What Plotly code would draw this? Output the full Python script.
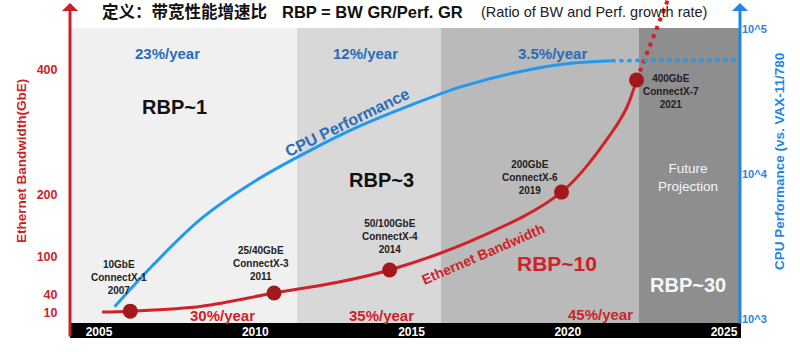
import plotly.graph_objects as go

# ---------------- data ----------------
year_ticks = [2005, 2010, 2015, 2020, 2025]
era_bounds = [2004.07, 2011.34, 2015.94, 2022.28, 2025.55]
era_colors = ["#f0f0f0", "#d8d8d8", "#bababa", "#8e8e8e"]

cpu_year = [2005.5, 2006.7, 2008.3, 2010.0, 2011.7, 2013.3, 2015.0, 2016.6, 2018.3, 2019.9, 2021.4]
cpu_perf = [1220, 2330, 5000, 9000, 14400, 21300, 30100, 40200, 50200, 57700, 60700]
cpu_proj_year = [2021.4, 2025.4]
cpu_proj_perf = [60700, 61400]

bw_year = [2005.1, 2006.0, 2008.3, 2010.6, 2012.5, 2014.3, 2017.2, 2019.8, 2021.4, 2021.9, 2022.2]
bw_gbe = [11.6, 13, 21, 42, 58, 79, 132, 204, 299, 341, 384]
bw_proj_year = [2022.2, 2023.2]
bw_proj_gbe = [384, 512]

nic_year = [2006.0, 2010.6, 2014.3, 2019.8, 2022.2]
nic_gbe = [13, 42, 79, 204, 384]
nic_labels = ["10GbE<br>ConnectX-1<br>2007", "25/40GbE<br>ConnectX-3<br>2011",
              "50/100GbE<br>ConnectX-4<br>2014", "200GbE<br>ConnectX-6<br>2019",
              "400GbE<br>ConnectX-7<br>2021"]

bw_ticks = [10, 40, 100, 200, 400]
cpu_ticks = [1000, 10000, 100000]
cpu_ticktext = ["10^3", "10^4", "10^5"]

# ---------------- styling ----------------
FONT = "Liberation Sans, Arial, Noto Sans CJK SC, sans-serif"
RED = "#cf2229"
DOT_RED = "#a3181b"
BLUE_LINE = "#2199f1"
BLUE_TEXT = "#2a6db6"
BLUE_AXIS = "#1f86e4"

L, R, T, B = 70, 741, 0, 323
W, H = 800, 352


def px(x):
    return (x - L) / (R - L)


def py(y):
    return (B - y) / (B - T)


fig = go.Figure()

fig.add_trace(go.Scatter(x=cpu_year, y=cpu_perf, yaxis="y2", mode="lines",
                         line=dict(color=BLUE_LINE, width=3, shape="spline"),
                         hoverinfo="skip"))
fig.add_trace(go.Scatter(x=cpu_proj_year, y=cpu_proj_perf, yaxis="y2", mode="lines",
                         line=dict(color=BLUE_LINE, width=3.5, dash="4px,4px"),
                         hoverinfo="skip"))
fig.add_trace(go.Scatter(x=bw_year, y=bw_gbe, mode="lines",
                         line=dict(color=RED, width=3, shape="spline"),
                         hoverinfo="skip"))
fig.add_trace(go.Scatter(x=bw_proj_year, y=bw_proj_gbe, mode="lines",
                         line=dict(color=RED, width=4, dash="4px,5px"),
                         hoverinfo="skip"))
fig.add_trace(go.Scatter(x=nic_year, y=nic_gbe, mode="markers",
                         marker=dict(color=DOT_RED, size=15, line=dict(width=0)),
                         cliponaxis=False, hoverinfo="skip"))

shapes = []
for i, c in enumerate(era_colors):
    shapes.append(dict(type="rect", xref="x", yref="paper",
                       x0=era_bounds[i], x1=era_bounds[i + 1],
                       y0=0, y1=py(28), fillcolor=c, line=dict(width=0), layer="below"))
# black band under the x axis
shapes.append(dict(type="rect", xref="paper", yref="paper", x0=0, x1=1,
                   y0=py(338), y1=0, fillcolor="black", line=dict(width=0), layer="below"))

ann = []


def text(x, y, s, size, color, bold=True, angle=0, xanchor="center"):
    ann.append(dict(xref="paper", yref="paper", x=px(x), y=py(y), text=s,
                    showarrow=False, textangle=angle, xanchor=xanchor, yanchor="middle",
                    font=dict(family=FONT, size=size, color=color,
                              weight="bold" if bold else "normal")))


# title
text(100, 12, "定义：带宽性能增速比", 16.5, "#111", xanchor="left")
text(280, 12, "RBP = BW GR/Perf. GR", 16.5, "#111", xanchor="left")
text(479, 12, "(Ratio of BW and Perf. growth rate)", 14.5, "#222", bold=False, xanchor="left")

# growth rates
text(167, 53, "23%/year", 15, BLUE_TEXT)
text(365, 53, "12%/year", 15, BLUE_TEXT)
text(552, 53, "3.5%/year", 15, BLUE_TEXT)
text(222, 315, "30%/year", 15, RED)
text(381, 315, "35%/year", 15, RED)
text(600, 314, "45%/year", 15, RED)

# RBP labels
text(174, 107, "RBP~1", 20, "#111")
text(381, 180, "RBP~3", 20, "#111")
text(557, 263, "RBP~10", 21, RED)
text(688, 285, "RBP~30", 20, "#f7f7f7")
text(688, 177, "Future<br>Projection", 13.5, "#f4f4f4", bold=False)

# curve labels
text(347, 122, "CPU Performance", 16, BLUE_TEXT, angle=-26)
text(483, 254, "Ethernet Bandwidth", 14, RED, angle=-23.5)

# NIC labels
nic_pos = [(119, 277), (261, 263), (390, 236), (530, 177), (671, 91)]
for (x, y), s in zip(nic_pos, nic_labels):
    text(x, y, s, 10, "#222")

# axis titles
text(21, 161, "Ethernet Bandwidth(GbE)", 13.5, "#c8252b", angle=-90)
text(779, 162, "CPU Performance (vs. VAX-11/780", 13.5, BLUE_AXIS, angle=-90)

# axis arrows
ann.append(dict(xref="paper", yref="paper", x=px(70), y=py(3), ax=0, ay=335, text="",
                showarrow=True, arrowhead=1, arrowsize=0.9, arrowwidth=3, arrowcolor="#c8202a"))
ann.append(dict(xref="paper", yref="paper", x=px(740), y=py(3), ax=0, ay=322, text="",
                showarrow=True, arrowhead=1, arrowsize=0.9, arrowwidth=3, arrowcolor=BLUE_AXIS))

fig.update_layout(
    width=W, height=H,
    margin=dict(l=L, r=W - R, t=T, b=H - B),
    paper_bgcolor="white", plot_bgcolor="rgba(0,0,0,0)",
    showlegend=False,
    shapes=shapes, annotations=ann,
    font=dict(family=FONT),
    xaxis=dict(range=[2004.072, 2025.544], tickvals=year_ticks, showgrid=False,
               zeroline=False, showline=False, ticks="",
               tickfont=dict(family=FONT, size=12, color="white", weight="bold")),
    yaxis=dict(range=[-6.05, 512.3], tickvals=bw_ticks, showgrid=False, zeroline=False,
               showline=False, ticks="outside", ticklen=9, tickcolor="rgba(0,0,0,0)",
               tickfont=dict(family=FONT, size=12.5, color="#c8252b", weight="bold")),
    yaxis2=dict(type="log", range=[2.9745, 5.202], overlaying="y", side="right",
                tickvals=cpu_ticks, ticktext=cpu_ticktext, showgrid=False, zeroline=False,
                showline=False, ticks="",
                tickfont=dict(family=FONT, size=11, color=BLUE_AXIS, weight="bold")),
)

fig.write_html("out.html")
